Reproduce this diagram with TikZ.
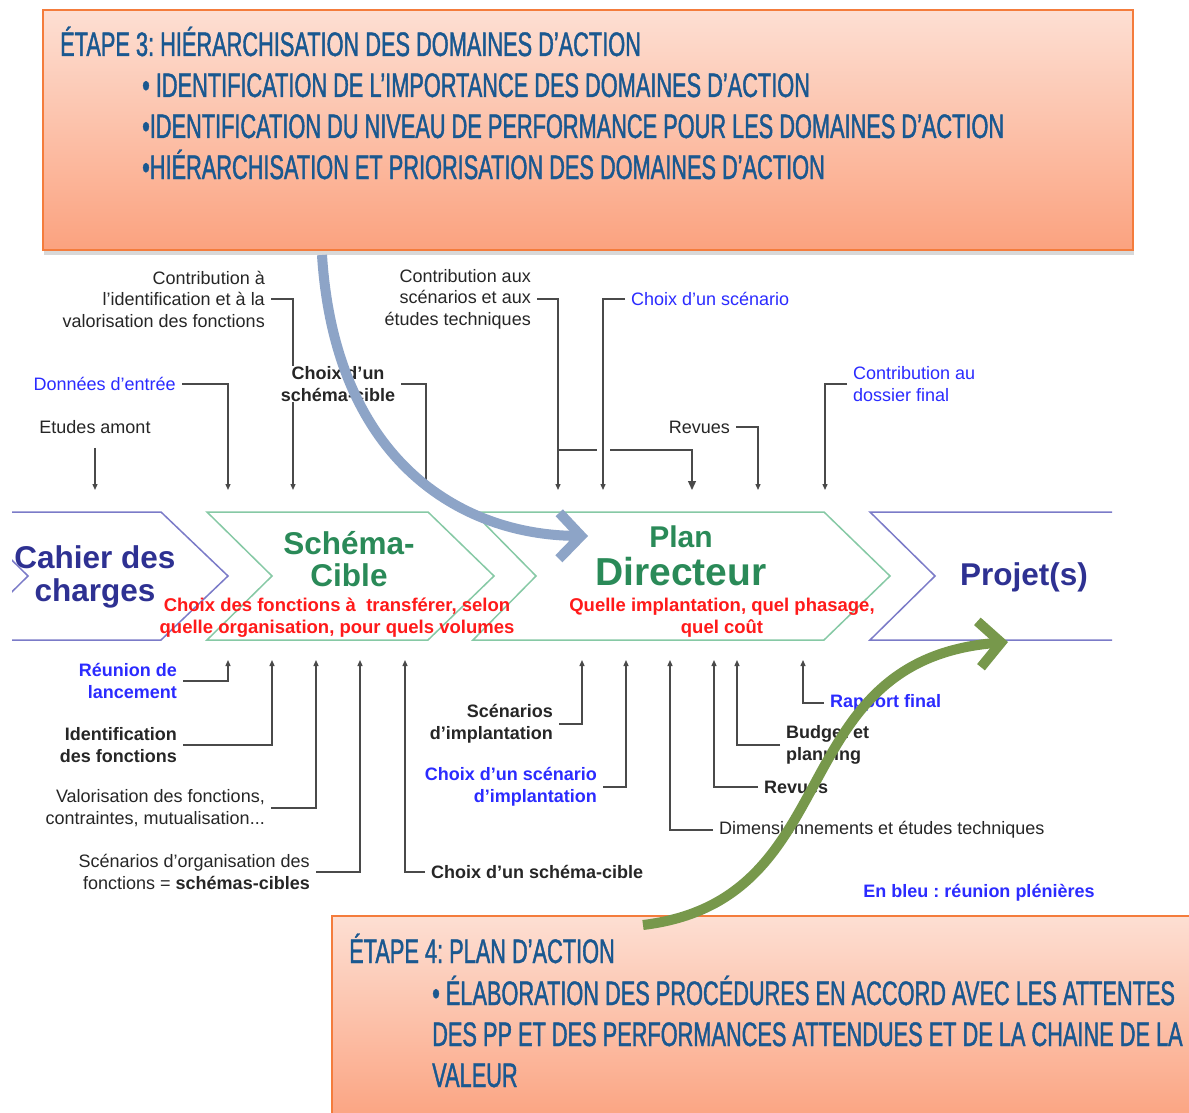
\documentclass[tikz,border=0pt]{standalone}
\usepackage{fontspec}
\setmainfont{Liberation Sans}
\newfontfamily\stepfont[FakeStretch=0.64,FakeBold=1.2]{Liberation Sans}
\usetikzlibrary{arrows.meta,shadows}
\frenchspacing

\definecolor{navy}{HTML}{2E3192}
\definecolor{leaf}{HTML}{2A8A58}
\definecolor{plenary}{HTML}{2B2BFF}
\definecolor{alert}{HTML}{FF1A1A}
\definecolor{wire}{HTML}{4A4A4A}
\definecolor{edgeblue}{HTML}{7B7BC8}
\definecolor{edgegreen}{HTML}{86C9A5}
\definecolor{boxtop}{HTML}{FDDFD3}
\definecolor{boxbot}{HTML}{FBA27F}
\definecolor{boxline}{HTML}{F47C3C}
\definecolor{titleblue}{HTML}{1A5890}
\definecolor{steel}{HTML}{8DA4C7}
\definecolor{arrowgreen}{HTML}{77984B}

\tikzset{
  lbl/.style={font=\fontsize{18}{21.5}\selectfont, text=black!85, inner xsep=6pt, inner ysep=1pt},
  lblb/.style={lbl, font=\fontsize{18}{21.5}\selectfont\bfseries},
  conn/.style={draw=wire, line width=1.3pt, -{Triangle[length=6pt,width=5pt]}},
  chevblue/.style={draw=edgeblue, line width=1.5pt},
  chevgreen/.style={draw=edgegreen, line width=1.5pt},
  steptext/.style={font=\stepfont\fontsize{34}{41}\selectfont, text=titleblue, inner sep=0pt, anchor=base west},
  stepbox/.style={top color=boxtop, bottom color=boxbot, draw=boxline, line width=1.5pt},
  bigarrow/.style={line width=10pt, -{Straight Barb[length=22pt,width=46pt]}},
  stage/.style={font=\fontsize{31.5}{33}\selectfont\bfseries, align=center},
  stagedesc/.style={font=\fontsize{18.5}{22}\selectfont\bfseries, text=alert, align=center}
}

\begin{document}
\begin{tikzpicture}[x=1pt, y=-1pt]

  \useasboundingbox (0,0) rectangle (1189,1113);
  \fill[white] (0,0) rectangle (1189,1113);

  % --- etape 3 ---
  \path[stepbox, drop shadow={opacity=0.3, shadow xshift=1pt, shadow yshift=-5pt}] (43,10) rectangle (1133,250);
  \node[steptext] (etape3) at (60,56) {ÉTAPE 3: HIÉRARCHISATION DES DOMAINES D’ACTION};
  \node[steptext] (importance) at (142,97) {• IDENTIFICATION DE L’IMPORTANCE DES DOMAINES D’ACTION};
  \node[steptext] (niveau) at (142,138) {•IDENTIFICATION DU NIVEAU DE PERFORMANCE POUR LES DOMAINES D’ACTION};
  \node[steptext] (priorite) at (142,179) {•HIÉRARCHISATION ET PRIORISATION DES DOMAINES D’ACTION};

  % --- chevrons ---
  \begin{scope}
    \clip (12,500) rectangle (300,650);
    \draw[chevblue] (-37,512) -- (161,512) -- (228,576) -- (161,640) -- (-37,640) -- (28,576) -- cycle;
  \end{scope}
  \draw[chevgreen] (207,512) -- (428,512) -- (494,576) -- (428,640) -- (207,640) -- (272,576) -- cycle;
  \draw[chevgreen] (473,512) -- (824,512) -- (890,576) -- (824,640) -- (473,640) -- (536,576) -- cycle;
  \draw[chevblue] (1112,512) -- (870,512) -- (935,576) -- (870,640) -- (1112,640);

  \node[stage, text=navy] (cahier) at (95,577) {Cahier des\\charges};
  \node[stage, text=leaf, font=\fontsize{31.5}{32}\selectfont\bfseries] (schema) at (349,559) {Schéma-\\Cible};
  \node[stagedesc] (schemadesc) at (337,618) {Choix des fonctions à~ transférer, selon\\quelle organisation, pour quels volumes};
  \node[stage, text=leaf, font=\fontsize{30}{32}\selectfont\bfseries] (plan) at (681,537) {Plan};
  \node[stage, text=leaf, font=\fontsize{39}{40}\selectfont\bfseries] (directeur) at (681,572) {Directeur};
  \node[stagedesc] (plandesc) at (722,618) {Quelle implantation, quel phasage,\\quel coût};
  \node[stage, text=navy] (projets) at (1024,577) {Projet(s)};

  % --- entrees du haut ---
  \coordinate (a1) at (95,490);
  \coordinate (a2) at (228,490);
  \coordinate (a3) at (293,490);
  \coordinate (a4) at (426,490);
  \coordinate (a5) at (558,490);
  \coordinate (a6) at (603,490);
  \coordinate (a7) at (692,490);
  \coordinate (a8) at (758,490);
  \coordinate (a9) at (825,490);
  \coordinate (fork) at (558,450);

  \node[lbl, align=right, anchor=east] (contribfct) at (271,299) {Contribution à\\l’identification et à la\\valorisation des fonctions};
  \draw[conn] (contribfct.east) -| (a3);
  \node[lblb, align=center, fill=white] (choixsc) at (338,384) {Choix d’un\\schéma-cible};
  \draw[conn] (choixsc.east) -| (a4);

  \node[lbl, text=plenary, anchor=east] (donnees) at (182,384) {Données d’entrée};
  \node[lbl] (etudes) at (95,427) {Etudes amont};
  \node[lbl, align=right, anchor=east] (contribsc) at (537,299) {Contribution aux\\scénarios et aux\\études techniques};
  \node[lbl, text=plenary, anchor=west] (choixscen) at (625,299) {Choix d’un scénario};
  \node[lbl, anchor=east] (revues) at (736,427) {Revues};
  \node[lbl, text=plenary, align=left, anchor=west] (dossier) at (847,384) {Contribution au\\dossier final};

  \draw[conn, shorten <=13pt] (etudes) -- (a1);
  \draw[conn] (donnees.east) -| (a2);
  \draw[conn] (contribsc.east) -| (a5);
  \draw[wire, line width=1.3pt] (fork) -- ++(39,0);
  \draw[conn, -{Triangle[length=9pt,width=8pt]}] ([xshift=52pt]fork) -| (a7);
  \draw[conn] (choixscen.west) -| (a6);
  \draw[conn] (revues.east) -| (a8);
  \draw[conn] (dossier.west) -| (a9);

  % --- entrees du bas ---
  \coordinate (b1) at (228,660);
  \coordinate (b2) at (272,660);
  \coordinate (b3) at (316,660);
  \coordinate (b4) at (360,660);
  \coordinate (b5) at (405,660);
  \coordinate (b6) at (582,660);
  \coordinate (b7) at (626,660);
  \coordinate (b8) at (670,660);
  \coordinate (b9) at (714,660);
  \coordinate (b10) at (737,660);
  \coordinate (b11) at (803,660);

  \node[lblb, text=plenary, align=right, anchor=east] (reunion) at (183,681) {Réunion de\\lancement};
  \node[lblb, align=right, anchor=east] (identif) at (183,745) {Identification\\des fonctions};
  \node[lbl, align=right, anchor=east] (valor) at (271,808) {Valorisation des fonctions,\\contraintes, mutualisation...};
  \node[lbl, align=right, anchor=east] (orga) at (316,872) {Scénarios d’organisation des\\fonctions = \textbf{schémas-cibles}};
  \node[lblb, anchor=west] (choixsc2) at (425,872) {Choix d’un schéma-cible};
  \node[lblb, align=right, anchor=east] (scenimp) at (559,724) {Scénarios\\d’implantation};
  \node[lblb, text=plenary, align=right, anchor=east] (choiximp) at (603,787) {Choix d’un scénario\\d’implantation};
  \node[lbl, anchor=west] (dimens) at (713,830) {Dimensionnements et études techniques};
  \node[lblb, anchor=west] (revues2) at (758,787) {Revues};
  \node[lblb, align=left, anchor=west] (budget) at (780,745) {Budget et\\planning};
  \node[lblb, text=plenary, anchor=west] (rapport) at (824,703) {Rapport final};
  \node[lblb, text=plenary] (legende) at (979,893) {En bleu : réunion plénières};

  \draw[conn] (reunion.east) -| (b1);
  \draw[conn] (identif.east) -| (b2);
  \draw[conn] (valor.east) -| (b3);
  \draw[conn] (orga.east) -| (b4);
  \draw[conn] (choixsc2.west) -| (b5);
  \draw[conn] (scenimp.east) -| (b6);
  \draw[conn] (choiximp.east) -| (b7);
  \draw[conn] (dimens.west) -| (b8);
  \draw[conn] (revues2.west) -| (b9);
  \draw[conn] (budget.west) -| (b10);
  \draw[conn] (rapport.west) -| (b11);

  % --- etape 4 ---
  \path[stepbox] (332,916) rectangle (1200,1125);
  \node[steptext] (etape4) at (349,963) {ÉTAPE 4: PLAN D’ACTION};
  \node[steptext] (elab) at (432,1005) {• ÉLABORATION DES PROCÉDURES EN ACCORD AVEC LES ATTENTES};
  \node[steptext] (attentes) at (432,1046) {DES PP ET DES PERFORMANCES ATTENDUES ET DE LA CHAINE DE LA};
  \node[steptext] (valeur) at (432,1087) {VALEUR};

  % --- grandes fleches ---
  \draw[bigarrow, steel] (322,255) .. controls (335,460) and (460,535) .. (588,536);
  \draw[bigarrow, arrowgreen] (643,925) .. controls (850,900) and (780,660) .. (1008,642);

\end{tikzpicture}
\end{document}
